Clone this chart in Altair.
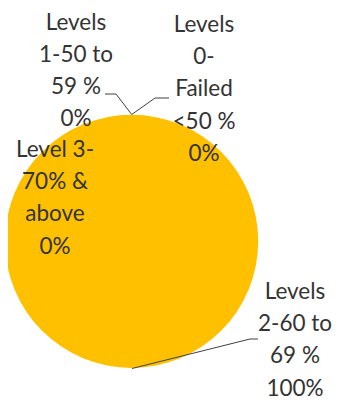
import altair as alt
import pandas as pd

# ---- data ----
categories = ["Levels 0-Failed <50 %", "Levels 1-50 to 59 %", "Levels 2-60 to 69 %", "Level 3-70% & above"]
values = [0, 0, 100, 0]
label_names = [
    ["Levels", "0-", "Failed", "<50 %"],
    ["Levels", "1-50 to", "59 %"],
    ["Levels", "2-60 to", "69 %"],
    ["Level 3-", "70% &", "above"],
]
colors = ["#4472C4", "#ED7D31", "#FFC000", "#A5A5A5"]

# ---- layout (chart pixel coords; page margin 8px) ----
M = 8
cx, cy, R = 131.6 - M, 241.3 - M, 126.6
label_xy = [(204 - M, 25 - M), (76 - M, 22.5 - M), (295 - M, 292 - M), (55 - M, 150 - M)]
leaders = [
    [(131.7, 114.5), (155, 98), (169, 98)],
    [(105, 94), (116, 94), (131.7, 114.5)],
    [(132, 368.5), (250, 339), (258, 339)],
    [],
]

total = sum(values)
pie_df = pd.DataFrame({"category": categories, "value": values, "order": list(range(len(categories)))})

lab_rows = []
for i, c in enumerate(categories):
    pct = f"{round(100 * values[i] / total)}%"
    lab_rows.append({"category": c, "text": label_names[i] + [pct], "lx": label_xy[i][0], "ly": label_xy[i][1]})
lab_df = pd.DataFrame(lab_rows)

line_rows = []
for i, pts in enumerate(leaders):
    for j, (x, y) in enumerate(pts):
        line_rows.append({"category": categories[i], "k": j, "px": x - M, "py": y - M})
line_df = pd.DataFrame(line_rows)

pie = alt.Chart(pie_df).mark_arc(outerRadius=R, stroke=None).encode(
    theta=alt.Theta("value:Q", stack=True),
    order=alt.Order("order:Q"),
    color=alt.Color("category:N", scale=alt.Scale(domain=categories, range=colors), legend=None),
    x=alt.value(cx),
    y=alt.value(cy),
)

labels = alt.Chart(lab_df).mark_text(
    font="Lato", fontSize=22.5, color="#333333", align="center", baseline="middle", lineHeight=32.2
).encode(
    x=alt.X("lx:Q", scale=None),
    y=alt.Y("ly:Q", scale=None),
    text="text",
)

lines = alt.Chart(line_df).mark_line(color="#404040", strokeWidth=1).encode(
    x=alt.X("px:Q", scale=None),
    y=alt.Y("py:Q", scale=None),
    detail="category:N",
    order="k:Q",
)

chart = alt.layer(pie, lines, labels).properties(
    width=324, height=393, padding=0, autosize=alt.AutoSizeParams(type="none")
).configure_view(stroke=None)

chart.save("out.html", embed_options={"renderer": "svg", "actions": False})
